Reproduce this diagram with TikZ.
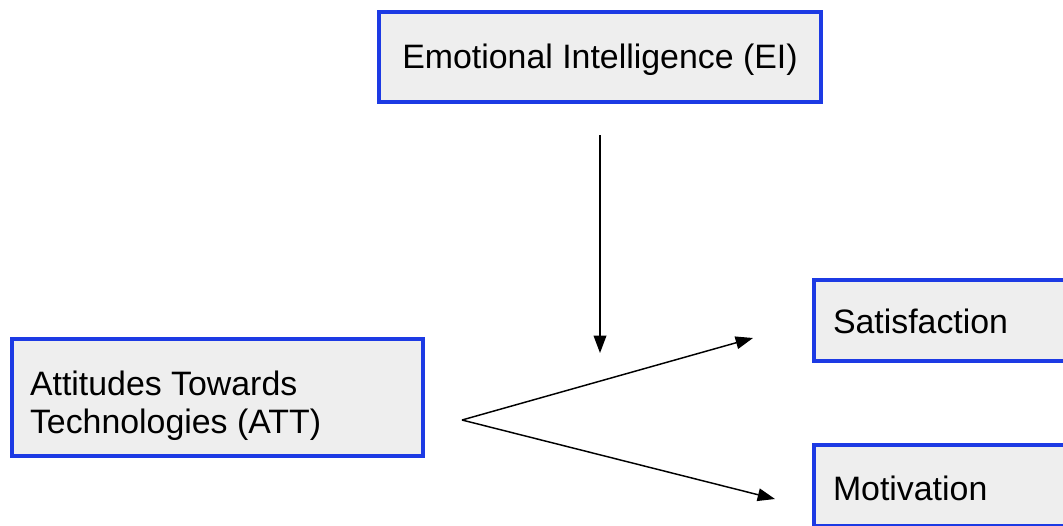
\documentclass[tikz,border=0pt]{standalone}
\usepackage{fontspec}
\setmainfont{Liberation Sans}
\usetikzlibrary{arrows.meta}
\definecolor{boxblue}{RGB}{28,58,228}
\definecolor{boxfill}{RGB}{238,238,238}
\tikzset{
  box/.style={draw=boxblue, line width=3pt, fill=boxfill, rectangle, inner sep=0pt,
    font=\fontsize{25.4}{28.5}\selectfont},
  conn/.style={line width=1.1pt, -{Triangle[length=13pt,width=9.5pt]}}
}
\begin{document}
\begin{tikzpicture}[x=0.75pt,y=-0.75pt]
\useasboundingbox (0,0) rectangle (1063,525);
\fill[white] (0,0) rectangle (1063,525);
\clip (0,0) rectangle (1063,525);
\node[box, minimum width=331.5pt, minimum height=67.5pt, text height=16.5pt, text depth=0pt] (ei) at (600,57) {Emotional Intelligence (EI)};
\node[box, minimum width=308.25pt, minimum height=87.75pt, text height=0pt, text depth=3.75pt] (att) at (217.5,397.5)
  {\makebox[281.25pt][l]{\begin{tabular}[t]{@{}l@{}}Attitudes Towards\\Technologies (ATT)\end{tabular}}};
\node[box, minimum width=220.5pt, minimum height=60.75pt, text height=18.75pt, text depth=0pt] (sat) at (961,320.5)
  {\makebox[192pt][l]{Satisfaction}};
\node[box, minimum width=220.5pt, minimum height=60.75pt, text height=21.75pt, text depth=0pt] (mot) at (961,485.5)
  {\makebox[192pt][l]{Motivation}};
\coordinate (eiS) at (600,135);
\coordinate (eiE) at (600,353);
\coordinate (attS) at (462,420);
\coordinate (satE) at (753,338);
\coordinate (motE) at (775,499);
\draw[conn] (eiS) -- (eiE);
\draw[conn] (attS) -- (satE);
\draw[conn] (attS) -- (motE);
\end{tikzpicture}
\end{document}
